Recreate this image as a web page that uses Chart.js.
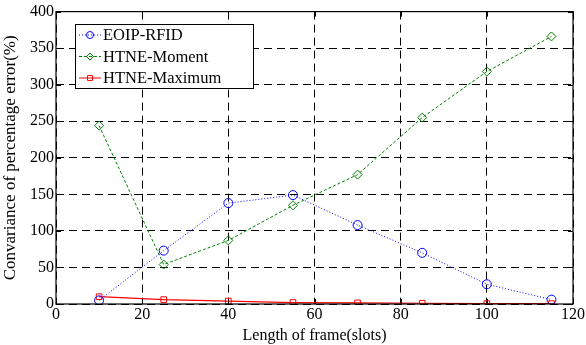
<!DOCTYPE html>
<html>
<head>
<meta charset="utf-8">
<script src="https://cdn.jsdelivr.net/npm/chart.js@4/dist/chart.umd.min.js"></script>
<style>
  html, body { margin: 0; padding: 0; background: #fff; }
  #wrap { width: 586px; height: 345px; }
</style>
</head>
<body>
<div id="wrap"><canvas id="c" width="586" height="345"></canvas></div>
<script>
// data
const frameLengths = [10, 25, 40, 55, 70, 85, 100, 115];
const eoipRfid = [5, 73, 138, 149, 108, 70, 27, 6];
const htneMoment = [244, 54, 87, 135, 177, 255, 318, 366];
const htneMaximum = [10, 6, 4, 2, 1.5, 1, 0.5, 0.5];
const seriesNames = ['EOIP-RFID', 'HTNE-Moment', 'HTNE-Maximum'];

const FONT = '"Liberation Serif", "Times New Roman", serif';

function pts(ys) {
    return frameLengths.map((x, i) => ({ x: x, y: ys[i] }));
}

// frame box + inward ticks + boxed legend inside the plot
const framePlugin = {
    id: 'frame',
    afterDatasetsDraw(chart) {
        const { ctx, chartArea: a, scales } = chart;
        ctx.save();
        ctx.strokeStyle = '#000';
        ctx.lineWidth = 1.2;
        ctx.setLineDash([]);
        ctx.strokeRect(a.left, a.top, a.right - a.left, a.bottom - a.top);
        ctx.lineWidth = 1;
        const tl = 5;
        scales.x.ticks.forEach(t => {
            const px = Math.round(scales.x.getPixelForValue(t.value)) + 0.5;
            ctx.beginPath();
            ctx.moveTo(px, a.bottom); ctx.lineTo(px, a.bottom - tl);
            ctx.moveTo(px, a.top); ctx.lineTo(px, a.top + tl);
            ctx.stroke();
        });
        scales.y.ticks.forEach(t => {
            const py = Math.round(scales.y.getPixelForValue(t.value)) + 0.5;
            ctx.beginPath();
            ctx.moveTo(a.left, py); ctx.lineTo(a.left + tl, py);
            ctx.moveTo(a.right, py); ctx.lineTo(a.right - tl, py);
            ctx.stroke();
        });

        // legend box
        const bx = 75, by = 24, bw = 178, bh = 64;
        ctx.fillStyle = '#fff';
        ctx.fillRect(bx, by, bw, bh);
        ctx.strokeStyle = '#000';
        ctx.lineWidth = 1;
        ctx.strokeRect(bx + 0.5, by + 0.5, bw, bh);
        chart.data.datasets.forEach((ds, i) => {
            const y = by + 11 + i * 21.5;
            ctx.strokeStyle = ds.borderColor;
            ctx.lineWidth = 1;
            ctx.setLineDash(ds.borderDash || []);
            ctx.beginPath();
            ctx.moveTo(bx + 4, y); ctx.lineTo(bx + 26, y);
            ctx.stroke();
            ctx.setLineDash([]);
            ctx.fillStyle = 'rgba(0,0,0,0)';
            Chart.helpers.drawPoint(ctx, {
                pointStyle: ds.pointStyle, radius: 3.5, borderWidth: 1
            }, bx + 15, y);
            ctx.fillStyle = '#000';
            ctx.font = '16.5px ' + FONT;
            ctx.textBaseline = 'middle';
            ctx.textAlign = 'left';
            ctx.fillText(ds.label, bx + 28, y + 1);
        });
        ctx.restore();
    }
};

new Chart(document.getElementById('c'), {
    type: 'line',
    data: {
        datasets: [
            {
                label: seriesNames[0], data: pts(eoipRfid),
                borderColor: '#0000ff', borderWidth: 1, borderDash: [1, 2],
                pointStyle: 'circle', pointRadius: 4.5, pointBorderWidth: 1,
                pointBorderColor: '#0000ff', pointBackgroundColor: 'rgba(0,0,0,0)'
            },
            {
                label: seriesNames[1], data: pts(htneMoment),
                borderColor: '#008000', borderWidth: 1, borderDash: [3, 2],
                pointStyle: 'rectRot', pointRadius: 4.5, pointBorderWidth: 1,
                pointBorderColor: '#008000', pointBackgroundColor: 'rgba(0,0,0,0)'
            },
            {
                label: seriesNames[2], data: pts(htneMaximum),
                borderColor: '#ff0000', borderWidth: 1.2,
                pointStyle: 'rect', pointRadius: 4, pointBorderWidth: 1,
                pointBorderColor: '#ff0000', pointBackgroundColor: 'rgba(0,0,0,0)'
            }
        ]
    },
    options: {
        responsive: false,
        animation: false,
        layout: { padding: { top: 8, right: 13, left: 0, bottom: 0 } },
        plugins: { legend: { display: false }, tooltip: { enabled: false } },
        scales: {
            x: {
                type: 'linear', min: 0, max: 120,
                ticks: { stepSize: 20, color: '#000', font: { family: FONT, size: 16 }, padding: 1, maxRotation: 0 },
                grid: { color: '#000', lineWidth: 1, drawTicks: false },
                border: { display: false, dash: [8, 5] },
                title: { display: true, text: 'Length of frame(slots)', color: '#000', font: { family: FONT, size: 16 }, padding: { top: 0, bottom: 0 } },
                afterFit(s) { s.height = 41; }
            },
            y: {
                min: 0, max: 400,
                ticks: { stepSize: 50, color: '#000', font: { family: FONT, size: 16 }, padding: 2 },
                grid: { color: '#000', lineWidth: 1, drawTicks: false },
                border: { display: false, dash: [8, 5] },
                title: { display: true, text: 'Convariance of percentage error(%)', color: '#000', font: { family: FONT, size: 17 }, padding: { top: 0, bottom: 0 } },
                afterFit(s) { s.width = 56; }
            }
        }
    },
    plugins: [framePlugin]
});
</script>
</body>
</html>
